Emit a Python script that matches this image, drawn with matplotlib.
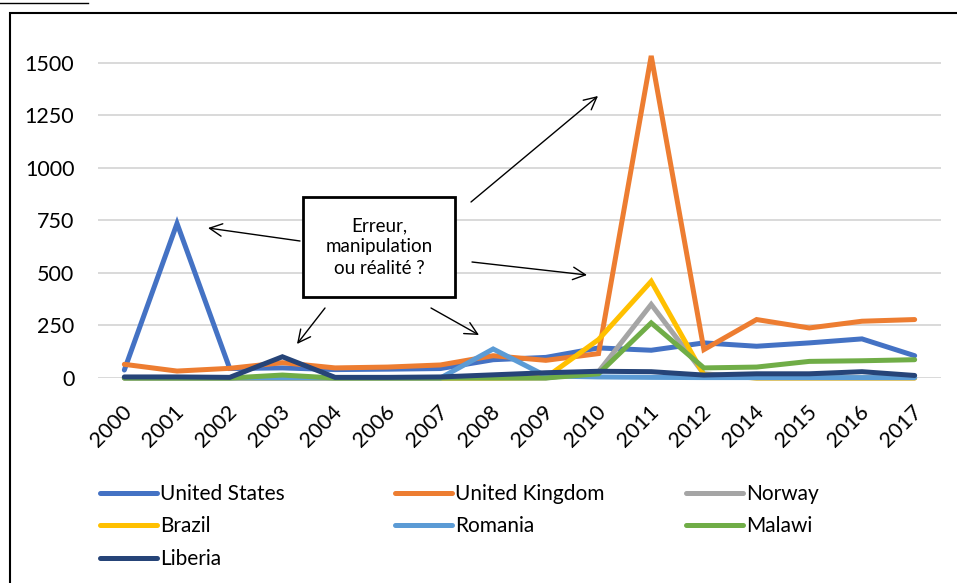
import matplotlib
matplotlib.use("Agg")
import matplotlib.pyplot as plt
from matplotlib.patches import Rectangle, FancyArrowPatch
from matplotlib.lines import Line2D
from matplotlib.transforms import ScaledTranslation

plt.rcParams["font.family"] = ["Lato", "DejaVu Sans"]

years = ["2000", "2001", "2002", "2003", "2004", "2006", "2007", "2008",
         "2009", "2010", "2011", "2012", "2014", "2015", "2016", "2017"]

united_states = [38, 735, 45, 48, 40, 42, 45, 87, 98, 143, 132, 167, 151, 167, 186, 106]
united_kingdom = [65, 33, 46, 73, 48, 52, 62, 106, 84, 116, 1532, 135, 278, 238, 270, 278]
norway = [0, 0, 0, 0, 0, 0, 0, 0, 0, 30, 350, 20, 0, 0, 0, 0]
brazil = [0, 0, 0, 0, 0, 0, 0, 0, 2, 183, 460, 15, 0, 0, 0, 0]
romania = [0, 0, 0, 0, 0, 0, 0, 138, 10, 5, 3, 2, 2, 2, 2, 2]
malawi = [0, 0, 0, 14, 0, 0, 0, 0, 0, 20, 262, 48, 52, 79, 82, 87]
liberia = [5, 5, 3, 101, 3, 3, 5, 15, 25, 32, 30, 14, 20, 20, 30, 12]

series = [
    ("United States", united_states, "#4472C4"),
    ("United Kingdom", united_kingdom, "#ED7D31"),
    ("Norway", norway, "#A5A5A5"),
    ("Brazil", brazil, "#FFC000"),
    ("Romania", romania, "#5B9BD5"),
    ("Malawi", malawi, "#70AD47"),
    ("Liberia", liberia, "#264478"),
]

W, H = 957, 583
fig = plt.figure(figsize=(W / 100, H / 100), dpi=100)

# axes placed in pixel terms of the reference
left, right, top, bottom = 98, 941, 50, 378
ax = fig.add_axes([left / W, 1 - bottom / H, (right - left) / W, (bottom - top) / H])

x = list(range(len(years)))
handles = []
for name, vals, col in series:
    ln, = ax.plot(x, vals, color=col, lw=3.6, label=name, solid_capstyle="round",
                  solid_joinstyle="miter", clip_on=False, zorder=3)
    handles.append(ln)

ax.set_xlim(-0.5, len(years) - 0.5)
ax.set_ylim(0, 1560)
ax.set_yticks([0, 250, 500, 750, 1000, 1250, 1500])
ax.set_xticks(x)
ax.set_xticklabels(years, rotation=45, ha="right", va="top", rotation_mode="anchor")
ax.tick_params(axis="both", length=0, labelsize=15.5, colors="black")
ax.tick_params(axis="y", pad=17)
ax.tick_params(axis="x", pad=17)
shift = ScaledTranslation(-3 / 100, 0, fig.dpi_scale_trans)
for lab in ax.get_xticklabels():
    lab.set_transform(lab.get_transform() + shift)
ax.grid(axis="y", color="#D9D9D9", lw=1.4, zorder=0)
for s in ax.spines.values():
    s.set_visible(False)

# legend: three columns, filled row by row
col_x = [100, 395, 686]
for c in range(3):
    hs = handles[c::3]
    fig.legend(handles=hs, labels=[h.get_label() for h in hs], loc="upper left",
               bbox_to_anchor=(col_x[c] / W, 1 - 484 / H), ncol=1,
               frameon=False, fontsize=15, handlelength=2.75, handletextpad=0.15,
               labelspacing=0.6, borderaxespad=0, borderpad=0)

# outer frame (cut off at right and bottom)
fig.patches.append(Rectangle((10 / W, -0.05), 1.2, 1 - 13 / H + 0.05,
                             transform=fig.transFigure, fill=False,
                             ec="black", lw=1.5))
# fragment of the caption underline above the frame
fig.add_artist(Line2D([0, 88 / W], [1 - 3 / H, 1 - 3 / H], color="black", lw=1))

# text box
fig.patches.append(Rectangle((303 / W, 1 - 297 / H), 152 / W, 100 / H,
                             transform=fig.transFigure, fill=True, fc="white",
                             ec="black", lw=2, zorder=5))
fig.text(379 / W, 1 - 247 / H, "Erreur,\nmanipulation\nou réalité ?",
         ha="center", va="center", fontsize=13.5, linespacing=1.3, zorder=6)

arrows = [((300, 241), (208, 228)), ((325, 308), (297, 344)),
          ((431, 308), (479, 335)), ((471, 202), (598, 96)),
          ((472, 262), (587, 275))]
for (x0, y0), (x1, y1) in arrows:
    fig.add_artist(FancyArrowPatch(
        (x0 / W, 1 - y0 / H), (x1 / W, 1 - y1 / H), transform=fig.transFigure,
        arrowstyle="->,head_length=9,head_width=4.5", color="black", lw=1,
        mutation_scale=1, shrinkA=0, shrinkB=0))

fig.savefig("out.png", dpi=100)
